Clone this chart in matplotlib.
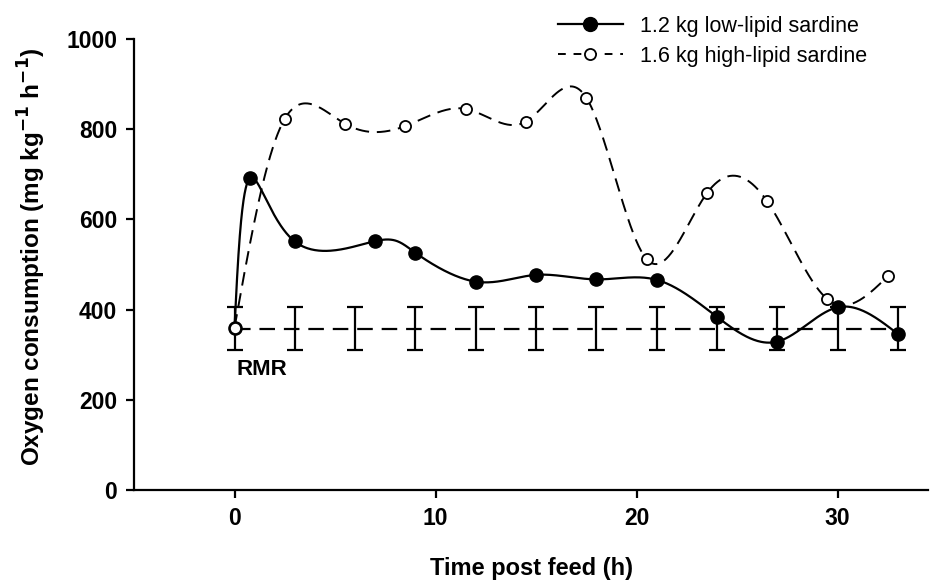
import numpy as np
import matplotlib
matplotlib.use("Agg")
import matplotlib.pyplot as plt

plt.rcParams["font.family"] = ["Liberation Sans", "DejaVu Sans"]

# Low-lipid sardine meal (filled markers)
low_time = [0, 0.75, 3, 7, 9, 12, 15, 18, 21, 24, 27, 30, 33]
low_vo2 = [360, 691, 551, 552, 526, 462, 477, 467, 466, 384, 329, 405, 346]

# High-lipid sardine meal (open markers)
high_time = [0, 2.5, 5.5, 8.5, 11.5, 14.5, 17.5, 20.5, 23.5, 26.5, 29.5, 32.5]
high_vo2 = [360, 823, 812, 807, 845, 817, 870, 512, 658, 640, 423, 474]

# Routine metabolic rate with its spread
rmr_mean = 358
rmr_err = 47
rmr_time = [0, 3, 6, 9, 12, 15, 18, 21, 24, 27, 30, 33]

x_ticks = [0, 10, 20, 30]
y_ticks = [0, 200, 400, 600, 800, 1000]


def natural_coeffs(t, v):
    k = len(t)
    h = np.diff(t)
    A = np.zeros((k, k))
    b = np.zeros(k)
    A[0, 0] = A[-1, -1] = 1.0
    for i in range(1, k - 1):
        A[i, i - 1] = h[i - 1]
        A[i, i] = 2 * (h[i - 1] + h[i])
        A[i, i + 1] = h[i]
        b[i] = 6 * ((v[i + 1] - v[i]) / h[i] - (v[i] - v[i - 1]) / h[i - 1])
    return np.linalg.solve(A, b)


def eval_spline(t, v, M, ts):
    k = len(t)
    idx = np.clip(np.searchsorted(t, ts) - 1, 0, k - 2)
    t0, t1 = t[idx], t[idx + 1]
    hh = t1 - t0
    return (M[idx] * (t1 - ts) ** 3 / (6 * hh) + M[idx + 1] * (ts - t0) ** 3 / (6 * hh)
            + (v[idx] / hh - M[idx] * hh / 6) * (t1 - ts)
            + (v[idx + 1] / hh - M[idx + 1] * hh / 6) * (ts - t0))


def smooth_curve(x, y, n=800):
    """Parametric natural cubic spline through the points (uniform knots)."""
    x = np.asarray(x, float)
    y = np.asarray(y, float)
    t = np.arange(len(x), dtype=float)
    ts = np.linspace(0, t[-1], n)
    sx = eval_spline(t, x, natural_coeffs(t, x), ts)
    sy = eval_spline(t, y, natural_coeffs(t, y), ts)
    return sx, sy


fig = plt.figure(figsize=(9.3, 5.84), dpi=100)
ax = fig.add_axes([134 / 930, 94 / 584, 794 / 930, 451 / 584])
ax.set_xlim(-5, 34.5)
ax.set_ylim(0, 1000)

# RMR reference line with error bars
ax.plot([rmr_time[0], rmr_time[-1]], [rmr_mean, rmr_mean], color="black",
        lw=1.6, dashes=(7, 4), zorder=1)
ax.errorbar(rmr_time, [rmr_mean] * len(rmr_time), yerr=rmr_err, fmt="none",
            ecolor="black", elinewidth=1.6, capsize=6, capthick=1.6, zorder=1)

# Smoothed response curves
lx, ly = smooth_curve(low_time, low_vo2)
hx, hy = smooth_curve(high_time, high_vo2)
ax.plot(lx, ly, color="black", lw=1.6, zorder=2)
ax.plot(hx, hy, color="black", lw=1.4, dashes=(7, 4), zorder=2)

ax.plot(low_time, low_vo2, "o", color="black", ms=9.5, zorder=3)
ax.plot(high_time, high_vo2, "o", mfc="white", mec="black", mew=1.3, ms=8, zorder=4)

# Legend entries
h1, = ax.plot([], [], "-o", color="black", lw=1.6, ms=10)
h2, = ax.plot([], [], "o", ls=(0, (4, 4)), color="black", lw=1.4, mfc="white",
              mec="black", mew=1.3, ms=8)
fig.legend([h1, h2], ["1.2 kg low-lipid sardine", "1.6 kg high-lipid sardine"],
           loc="upper left", bbox_to_anchor=(558 / 930, 1 - 16 / 584), frameon=False,
           fontsize=15.5, handlelength=3.0, handletextpad=0.8, labelspacing=0.4,
           borderpad=0, borderaxespad=0)

ax.text(0.1, 268, "RMR", fontsize=16, fontweight="bold", ha="left", va="center")

ax.set_xticks(x_ticks)
ax.set_yticks(y_ticks)
for s in ("top", "right"):
    ax.spines[s].set_visible(False)
for s in ("left", "bottom"):
    ax.spines[s].set_linewidth(1.6)
ax.tick_params(direction="out", length=6, width=1.6, labelsize=16.5, pad=6)
for lab in ax.get_xticklabels() + ax.get_yticklabels():
    lab.set_fontweight("bold")

ax.set_xlabel("Time post feed (h)", fontsize=17, fontweight="bold", labelpad=20)
ax.set_ylabel(r"Oxygen consumption (mg kg$^{\mathbf{-1}}$ h$^{\mathbf{-1}}$)",
              fontsize=17.5, fontweight="bold")
ax.yaxis.set_label_coords(-0.108, 0.517)

fig.savefig("out.png", dpi=100)
